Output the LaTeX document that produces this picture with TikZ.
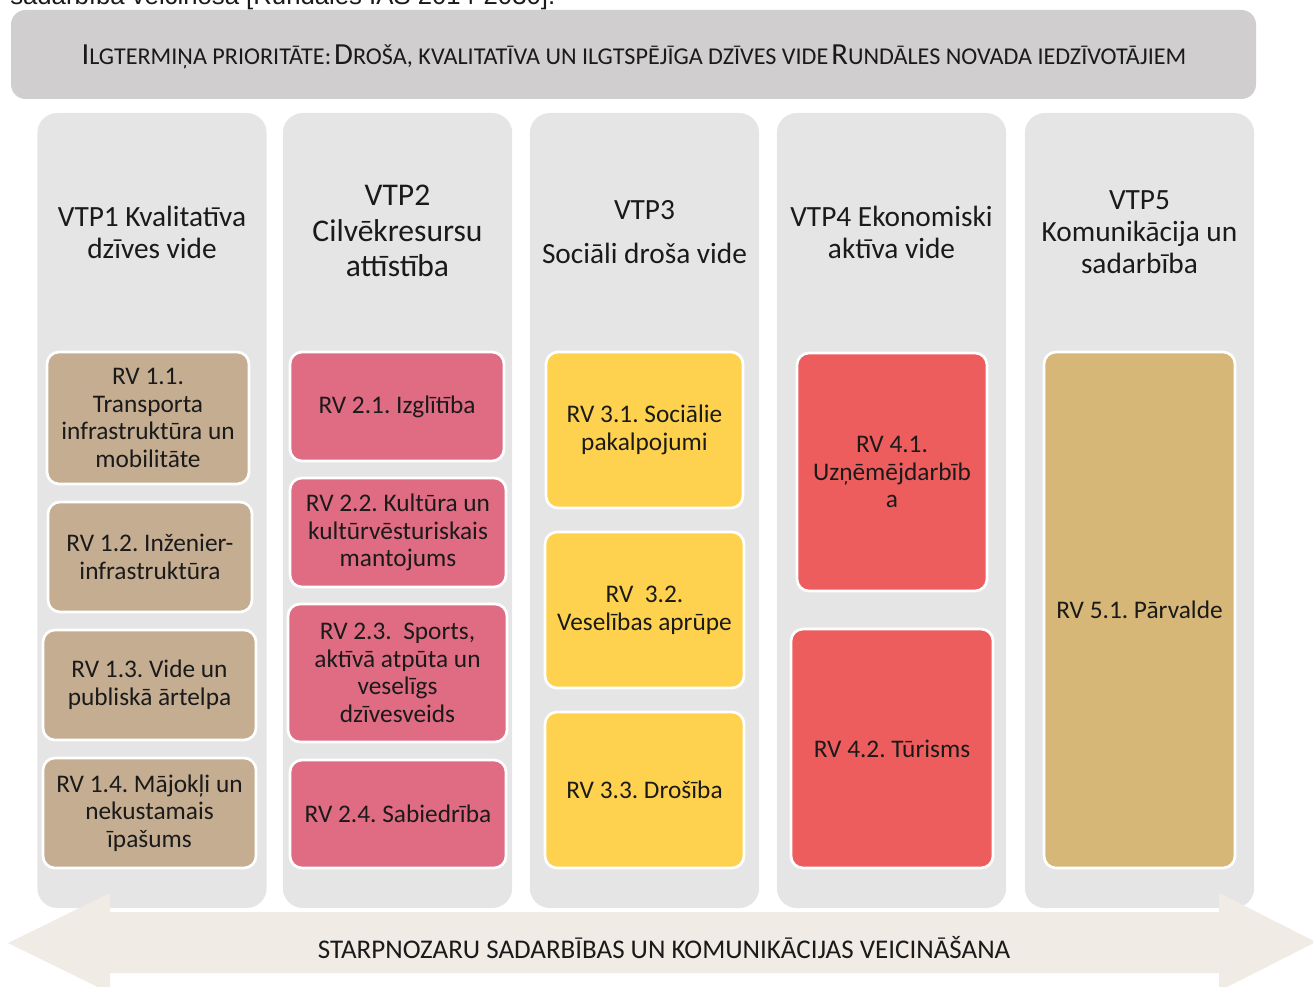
\documentclass[tikz,border=0pt]{standalone}
\usepackage{fontspec}
\setmainfont{Carlito}
\newfontfamily\capfont{Liberation Sans}
\definecolor{titlebg}{HTML}{D0CECE}
\definecolor{colbg}{HTML}{E5E5E5}
\definecolor{arrowbg}{HTML}{F0EBE5}
\definecolor{tanc}{HTML}{C5AD91}
\definecolor{pinkc}{HTML}{E06C84}
\definecolor{yellc}{HTML}{FED24E}
\definecolor{redc}{HTML}{EE5D5D}
\definecolor{goldc}{HTML}{D6B777}
\definecolor{txt}{HTML}{1A1A1A}
\newcommand\tbig[1]{{\fontsize{23}{27}\selectfont #1}}
\newcommand\tsmall[1]{{\fontsize{18.1}{22}\selectfont #1}}
\frenchspacing
\tikzset{
  colbox/.style={fill=colbg, draw=none, rounded corners=15pt, minimum width=172pt, minimum height=596.25pt, inner sep=0pt},
  rv/.style={draw=white, line width=2pt, rounded corners=9pt, align=center, inner sep=0pt, text=txt,
    font=\fontsize{19}{20.8}\selectfont},
  hdr/.style={align=center, inner sep=0pt, text=txt, font=\fontsize{22}{24}\selectfont},
}
\begin{document}
\begin{tikzpicture}[x=0.75pt,y=-0.75pt]
\clip (0,0) rectangle (1313,987);
\useasboundingbox (0,0) rectangle (1313,987);
% cut caption line at the top
\node[anchor=base west, inner sep=0pt, font=\capfont\fontsize{19.3}{22}\selectfont, text=txt] (cap) at (10,5) {sadarbība veicinošā [Rundāles IAS 2014-2030].};
% title
\node[fill=titlebg, rounded corners=11pt, minimum width=933.75pt, minimum height=66.75pt, inner sep=0pt] (titlebox) at (633.5,54.5) {};
\node[anchor=base, inner sep=0pt, text=txt] (title) at (634,65) {\tbig{I}\tsmall{LGTERMIŅA PRIORITĀTE:} \tbig{D}\tsmall{ROŠA, KVALITATĪVA UN ILGTSPĒJĪGA DZĪVES VIDE} \tbig{R}\tsmall{UNDĀLES NOVADA IEDZĪVOTĀJIEM}};
% columns
\node[colbox] (c1) at (152,510.5) {};
\node[colbox] (c2) at (397.5,510.5) {};
\node[colbox] (c3) at (644.5,510.5) {};
\node[colbox] (c4) at (891.5,510.5) {};
\node[colbox] (c5) at (1139.5,510.5) {};
% headers
\node[hdr] (h1) at (152,232) {VTP1 Kvalitatīva\\dzīves vide};
\node[hdr, font=\fontsize{23.7}{26.6}\selectfont] (h2) at (397.5,231) {VTP2\\Cilvēkresursu\\attīstība};
\node[hdr, font=\fontsize{22}{33}\selectfont] (h3) at (644.5,232) {VTP3\\Sociāli droša vide};
\node[hdr] (h4) at (891.5,232) {VTP4 Ekonomiski\\aktīva vide};
\node[hdr] (h5) at (1139.5,232) {VTP5\\Komunikācija un\\sadarbība};
% column 1
\node[rv, fill=tanc, minimum width=151.5pt, minimum height=99pt] (rv11) at (148,418) {RV 1.1.\\Transporta\\infrastruktūra un\\mobilitāte};
\node[rv, fill=tanc, minimum width=153pt, minimum height=82.5pt] (rv12) at (150,557) {RV 1.2. Inženier-\\infrastruktūra};
\node[rv, fill=tanc, minimum width=159.75pt, minimum height=82.5pt] (rv13) at (149.5,685) {RV 1.3. Vide un\\publiskā ārtelpa};
\node[rv, fill=tanc, minimum width=159.75pt, minimum height=82.5pt] (rv14) at (149.5,813) {RV 1.4. Mājokļi un\\nekustamais\\īpašums};
% column 2
\node[rv, fill=pinkc, minimum width=160.5pt, minimum height=81.75pt] (rv21) at (397,406.5) {RV 2.1. Izglītība};
\node[rv, fill=pinkc, minimum width=162pt, minimum height=81.75pt] (rv22) at (398,532.5) {RV 2.2. Kultūra un\\kultūrvēsturiskais\\mantojums};
\node[rv, fill=pinkc, minimum width=164.25pt, minimum height=103.5pt] (rv23) at (397.5,673) {RV 2.3.\ \ Sports,\\aktīvā atpūta un\\veselīgs\\dzīvesveids};
\node[rv, fill=pinkc, minimum width=162pt, minimum height=81pt] (rv24) at (398,814) {RV 2.4. Sabiedrība};
% column 3
\node[rv, fill=yellc, minimum width=147.75pt, minimum height=117pt] (rv31) at (644.5,430) {RV 3.1. Sociālie\\pakalpojumi};
\node[rv, fill=yellc, minimum width=149.25pt, minimum height=117pt] (rv32) at (644.5,610) {RV\ \ 3.2.\\Veselības aprūpe};
\node[rv, fill=yellc, minimum width=149.25pt, minimum height=117pt] (rv33) at (644.5,790) {RV 3.3. Drošība};
% column 4
\node[rv, fill=redc, minimum width=142.5pt, minimum height=178.5pt] (rv41) at (892,472) {RV 4.1.\\Uzņēmējdarbīb\\a};
\node[rv, fill=redc, minimum width=151.5pt, minimum height=179.25pt] (rv42) at (892,748.5) {RV 4.2. Tūrisms};
% column 5
\node[rv, fill=goldc, minimum width=143.25pt, minimum height=387pt] (rv51) at (1139.5,610) {RV 5.1. Pārvalde};
% bottom double arrow
\fill[arrowbg] (8,943) -- (110,893) -- (110,912) -- (1219,912) -- (1219,893) -- (1316,942)
  -- (1219,991) -- (1219,973) -- (110,973) -- (110,993) -- cycle;
\node[anchor=base, inner sep=0pt, text=txt, font=\fontsize{20.25}{24}\selectfont] (arrtxt) at (664,958) {STARPNOZARU SADARBĪBAS UN KOMUNIKĀCIJAS VEICINĀŠANA};
\end{tikzpicture}
\end{document}
